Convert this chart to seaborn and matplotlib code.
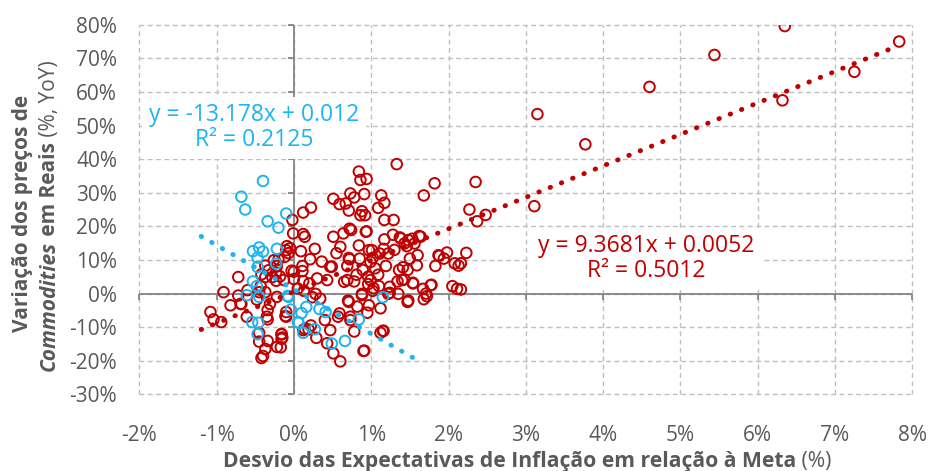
import numpy as np
import pandas as pd
import matplotlib
matplotlib.use("Agg")
import matplotlib.pyplot as plt
import matplotlib.transforms as mtransforms
import seaborn as sns

# pontos (x = desvio das expectativas, y = variação commodities), em %
red_x = [6.35, 7.83, 5.44, 4.60, 3.15, 3.77, 2.35, 2.27, 2.37, 2.48, 3.11, 6.32, 7.25, 2.23, 2.16, 2.16,
         1.33, 0.84, 0.86, 0.94, 1.82, 1.68, 0.73, 0.78, 0.51, 0.67, 0.59, 0.71, 0.91, 1.13, 1.17, 1.09,
         0.88, 0.86, 0.92, 0.22, 0.12, -0.02, 1.17, 1.29, 0.12, 0.14, -0.01, 0.72, 0.74, 0.94, 0.51, 0.64,
         1.17, 1.28, 1.37, 1.48, 1.53, 1.56, 1.46, 1.43, 1.64, 0.60, 0.84, 0.97, 1.02, 0.99, 1.16, 1.11,
         0.09, 0.27, -0.10, 0.21, 0.11, -0.03, 0.71, 0.85, 0.49, 0.69, 0.69, 0.81, 0.96, 0.99, 1.09, 1.19,
         1.41, 1.47, 1.50, 1.60, 1.59, 1.87, 1.98, 1.94, 2.08, 2.13, 1.83, 0.43, 0.96, 1.10, 1.24, 1.34,
         1.43, 1.54, 1.67, 1.71, 1.68, 1.78, 2.05, 2.11, 0.88, 1.03, 1.22, 1.35, 1.47, 0.97, 0.71, 0.82,
         0.95, 1.12, 0.59, 0.73, 0.78, 1.12, 1.16, 0.91, 0.51, 0.60, 0.40, 0.29, 0.43, 0.24, 0.28, 0.34,
         -0.10, -0.16, -0.16, 0.22, 0.13,
         -0.05, -0.07, -0.12, -0.20, -0.26, -0.37, -0.33, -0.23, -0.28, -0.23, -0.18, 0.00, 0.11, 0.00,
         0.12, -0.37, -0.42, -0.72, -0.43, -0.45, -0.91, -0.72, -0.69, -0.82, -0.60, -0.48, -0.37, -0.22,
         -0.34, -0.35, -0.31, -0.61, -1.08, -1.04, -0.94, -0.45, -0.45, -0.34, -0.37, -0.42, -0.40, -0.22,
         -0.16, -0.15, -0.11, 0.12, 0.19, 0.47, 0.90, 0.88, -0.09, -0.22, -0.13, -0.10, 0.14, -0.34,
         -0.17, -0.68, 1.01, 1.22, 1.62, 1.88, 1.36, 1.40, 1.54, 1.77, 1.72, 0.65, 0.78, 1.02, 1.24, 1.48,
         0.70, 0.57, 0.73, 1.15, 0.93, 1.38, 0.89, 0.47, 0.72, 0.20, 0.05, 0.30, 0.36, 0.55, 1.05, 1.30]
red_y = [79.6, 75.0, 71.0, 61.5, 53.4, 44.4, 33.2, 25.0, 21.5, 23.4, 26.0, 57.5, 66.0, 12.1, 9.0, 1.2,
         38.5, 36.3, 33.8, 34.1, 32.8, 29.2, 29.8, 28.6, 28.2, 26.8, 26.6, 24.7, 29.6, 29.2, 27.0, 25.5,
         24.5, 23.3, 23.3, 25.6, 24.1, 21.9, 21.9, 21.9, 17.7, 16.9, 17.9, 19.3, 18.9, 18.5, 16.9, 17.9,
         16.1, 17.5, 16.7, 15.9, 16.3, 14.9, 14.1, 14.9, 16.9, 13.9, 14.3, 12.9, 10.6, 9.4, 13.3, 11.9,
         12.6, 13.3, 12.9, 10.2, 8.2, 6.8, 10.6, 10.4, 8.0, 8.2, 4.0, 5.6, 5.0, 4.0, 5.6, 8.2,
         7.8, 7.0, 10.4, 11.4, 8.4, 11.4, 12.2, 10.4, 9.0, 8.3, 8.2, 4.0, 2.8, 2.2, 2.0, 3.6,
         4.2, 3.0, 1.4, 0.0, -1.7, 2.6, 2.2, 1.4, -0.1, 1.6, -0.1, -0.1, -2.5, -3.5, -2.5, -3.9,
         -5.7, -4.4, -5.9, -6.9, -11.3, -11.7, -11.1, -17.0, -17.8, -20.2, -7.9, -13.2, -14.8, -1.1, -0.1, -1.5,
         -5.5, -12.0, -13.5, -9.5, 0.8,
         13.5, 12.0, 10.9, 10.1, 9.9, 8.3, 6.9, 6.3, 4.9, 3.8, 5.1, 6.5, 6.7, 4.3,
         3.7, 4.9, 5.7, 4.9, 2.2, 0.4, 0.4, -0.6, -3.1, -3.5, 1.0, -1.8, 0.4, -1.0,
         -4.9, -6.9, -3.1, -6.9, -5.5, -7.7, -8.5, -11.7, -14.3, -14.1, -16.5, -19.2, -18.6, -15.9,
         -12.2, -13.1, -6.7, -10.9, -10.7, -10.9, -17.1, -0.5, 14.1, 8.2, 4.0, -6.9, -10.5, -7.7,
         -16.0, -3.1, 12.9, 11.9, 17.1, 11.2, 7.0, 4.0, 3.2, 2.5, -0.8, 3.5, 3.6, 0.8, 0.2, -2.1,
         -2.1, -6.9, -7.9, -11.1, 18.4, 16.4, 7.0, 8.0, 10.2, 3.0, 1.5, 4.5, 9.5, 12.0, 7.5, 13.0]

blue_x = [-0.40, -0.68, -0.63, -0.10, -0.34, -0.20, -0.45, -0.53, -0.40, -0.22, -0.47, -0.23, -0.47,
          -0.53, -0.48, -0.61, -0.45, -0.07, -0.04, 0.10, 0.16, -0.54, -0.46, -0.47, 0.06, 0.12, 0.27,
          0.33, 0.41, 0.49, 0.66, 0.84, 1.15, -0.08, 0.05]
blue_y = [33.5, 28.8, 25.0, 23.8, 21.5, 19.6, 13.7, 12.6, 12.5, 13.3, 10.7, 8.9, 7.9,
          3.6, 2.2, -0.5, -1.0, -1.0, -4.8, -5.8, -4.0, -8.5, -8.7, -12.1, -8.7, -11.7, -10.6,
          -4.6, -5.5, -14.9, -14.1, -7.7, -1.1, -0.7, -8.5]

# retas de tendência (equações do gráfico, em fração)
red_slope, red_icpt = 9.3681, 0.0052
red_r2 = 0.5012
red_range = [-1.2, 7.8]
blue_slope, blue_icpt = -13.178, 0.012
blue_r2 = 0.2125
blue_range = [-1.2, 1.6]

x_ticks = list(range(-2, 9))
y_ticks = list(range(-30, 81, 10))

RED = "#C00000"
BLUE = "#1EB4F0"
GREY = "#595959"

sns.set_style("white")
plt.rcParams["font.family"] = ["Open Sans", "DejaVu Sans"]

fig = plt.figure(figsize=(9.3, 4.71), dpi=100)
ax = fig.add_axes([0.1498, 0.1628, 0.8312, 0.7847])

# grade tracejada (inclui a moldura)
for xv in x_ticks:
    ax.axvline(xv, color="#BFBFBF", lw=1.0, ls=(0, (3.5, 2.5)), zorder=0, clip_on=False)
for yv in y_ticks:
    ax.axhline(yv, color="#BFBFBF", lw=1.0, ls=(0, (3.5, 2.5)), zorder=0, clip_on=False)
ax.axvline(0, color="#868686", lw=1.3, zorder=1)
ax.axhline(0, color="#868686", lw=1.3, zorder=1)
ax.plot(np.zeros(len(y_ticks)), y_ticks, ls="none", marker=0, ms=4, mew=1.3, color="#868686", clip_on=False)
ax.plot(x_ticks, np.zeros(len(x_ticks)), ls="none", marker=3, ms=4, mew=1.3, color="#868686", clip_on=False)

df_red = pd.DataFrame({"x": red_x, "y": red_y})
df_blue = pd.DataFrame({"x": blue_x, "y": blue_y})
sns.scatterplot(data=df_red, x="x", y="y", ax=ax, s=58, facecolor="none", edgecolor=RED, linewidth=1.4, zorder=3)
sns.scatterplot(data=df_blue, x="x", y="y", ax=ax, s=58, facecolor="none", edgecolor=BLUE, linewidth=1.4, zorder=4)

rx = np.array(red_range)
bx = np.array(blue_range)
dotted = (0, (0.1, 2.4))
sns.lineplot(x=rx, y=red_slope * rx + red_icpt * 100, ax=ax, color=RED, lw=3.5,
             linestyle=dotted, dash_capstyle="round", zorder=5)
sns.lineplot(x=bx, y=blue_slope * bx + blue_icpt * 100, ax=ax, color=BLUE, lw=3.5,
             linestyle=dotted, dash_capstyle="round", zorder=5)

box = dict(boxstyle="square,pad=0.3", facecolor="white", edgecolor="none")
ax.text(-0.51, 49.3, f"y = {blue_slope:.3f}x + {blue_icpt:.3f}\nR² = {blue_r2:.4f}", color=BLUE,
        fontsize=16.5, ha="center", va="center", multialignment="center", linespacing=1.05, bbox=box, zorder=6)
ax.text(4.56, 10.3, f"y = {red_slope:.4f}x + {red_icpt:.4f}\nR² = {red_r2:.4f}", color=RED,
        fontsize=16.5, ha="center", va="center", multialignment="center", linespacing=1.05, bbox=box, zorder=6)

ax.set_xlim(-2, 8)
ax.set_ylim(-30, 80)
ax.set_xticks(x_ticks)
ax.set_yticks(y_ticks)
ax.set_xticklabels([f"{v}%" for v in x_ticks])
ax.set_yticklabels([f"{v}%" for v in y_ticks])
ax.tick_params(axis="x", length=0, pad=22, labelsize=15, labelcolor=GREY)
ax.tick_params(axis="y", length=0, pad=16, labelsize=15, labelcolor=GREY)
ax.set_xlabel("")
ax.set_ylabel("")
for s in ax.spines.values():
    s.set_visible(False)

# títulos dos eixos com estilos misturados
px = mtransforms.IdentityTransform()
renderer = fig.canvas.get_renderer()


def put_pieces(pieces, x0, y0, rot, center, size):
    objs = [fig.text(0, 0, t, transform=px, rotation=rot, rotation_mode="anchor",
                     ha="left", va="baseline", color=GREY, fontsize=size, **kw) for t, kw in pieces]
    sizes = []
    for o in objs:
        bb = o.get_window_extent(renderer)
        sizes.append(bb.height if rot else bb.width)
    pos = center - sum(sizes) / 2
    for o, sz in zip(objs, sizes):
        o.set_position((x0, pos) if rot else (pos, y0))
        pos += sz


H = 471
put_pieces([("Variação dos preços de", {"fontweight": "bold"})], 28, 0, 90, H - 213, 15)
put_pieces([("Commodities", {"fontweight": "bold", "fontstyle": "italic"}),
            (" em Reais", {"fontweight": "bold"}),
            (" (%, YoY)", {})], 55, 0, 90, H - 216, 15)
put_pieces([("Desvio das Expectativas de Inflação em relação à Meta", {"fontweight": "bold"}),
            (" (%)", {})], 0, H - 467, 0, 527, 15.2)

fig.savefig("out.png", dpi=100)
